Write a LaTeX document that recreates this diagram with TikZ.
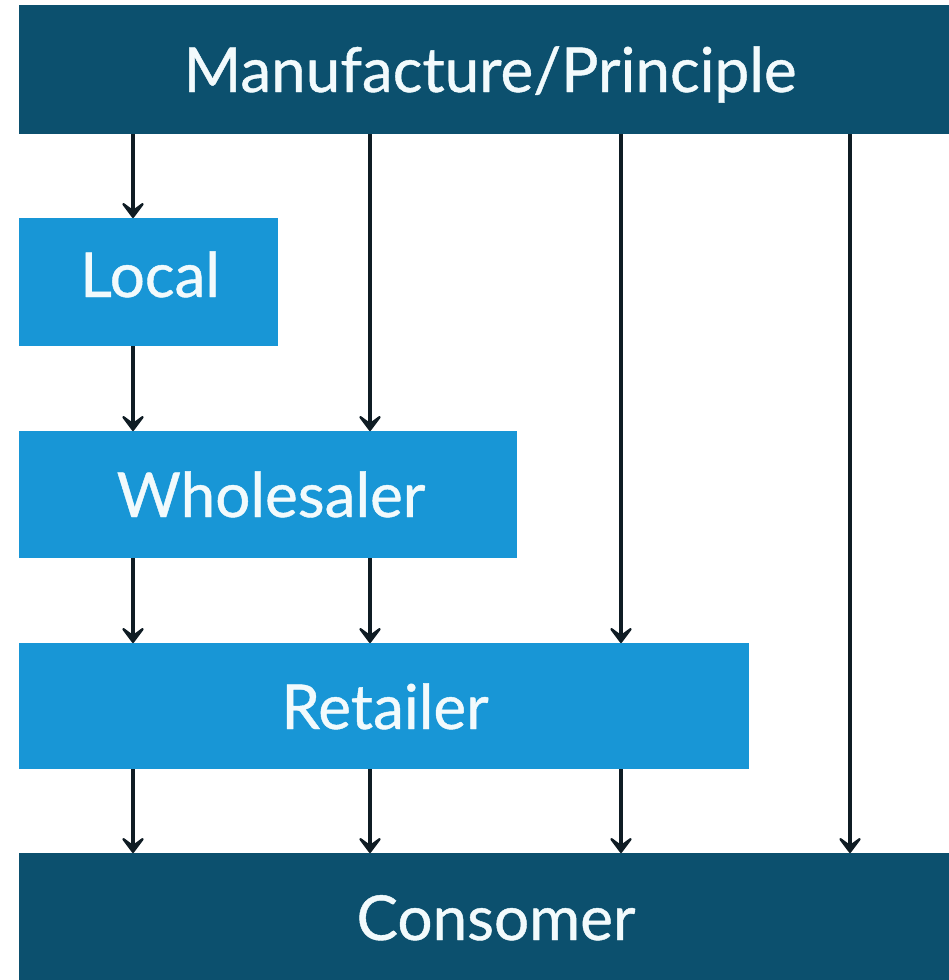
\documentclass[tikz,border=0pt]{standalone}
\usepackage{fontspec}
\setmainfont{Lato}
\newfontfamily\medfont{Lato}[FakeBold=0.7]
\usetikzlibrary{arrows.meta}
\definecolor{darkbar}{RGB}{12,80,110}
\definecolor{lightbox}{RGB}{24,150,214}
\definecolor{arrowc}{RGB}{15,28,36}
\definecolor{txt}{RGB}{242,250,252}
\tikzset{
  darkbox/.style={fill=darkbar, draw=none, inner sep=0pt, anchor=north west},
  bluebox/.style={fill=lightbox, draw=none, inner sep=0pt, anchor=north west},
  lbl/.style={text=txt, font=\medfont\fontsize{62}{70}\selectfont, inner sep=0pt, anchor=base},
  flow/.style={draw=arrowc, line width=4.5pt, -{Stealth[length=20pt,width=30pt,inset=11pt,round]}}
}
\begin{document}
\begin{tikzpicture}[x=1pt,y=-1pt]
\useasboundingbox (0,0) rectangle (949,980);
% boxes
\node[darkbox, minimum width=930pt, minimum height=129pt] (top) at (19,5) {};
\node[bluebox, minimum width=259pt, minimum height=128pt] (local) at (19,218) {};
\node[bluebox, minimum width=498pt, minimum height=127pt] (whole) at (19,431) {};
\node[bluebox, minimum width=730pt, minimum height=126pt] (retail) at (19,643) {};
\node[darkbox, minimum width=930pt, minimum height=127pt] (cons) at (19,853) {};
% labels
\node[lbl] (ttop) at (490,92) {Manufacture/Principle};
\node[lbl] (tlocal) at (150,297) {Local};
\node[lbl] (twhole) at (271,517) {Wholesaler};
\node[lbl] (tretail) at (385,729) {Retailer};
\node[lbl] (tcons) at (496,940) {Consomer};
% arrow columns
\coordinate (c1) at (133,0);
\coordinate (c2) at (370,0);
\coordinate (c3) at (621,0);
\coordinate (c4) at (850,0);
% arrows
\draw[flow] (top.south -| c1) -- (local.north -| c1);
\draw[flow] (local.south -| c1) -- (whole.north -| c1);
\draw[flow] (whole.south -| c1) -- (retail.north -| c1);
\draw[flow] (retail.south -| c1) -- (cons.north -| c1);
\draw[flow] (top.south -| c2) -- (whole.north -| c2);
\draw[flow] (whole.south -| c2) -- (retail.north -| c2);
\draw[flow] (retail.south -| c2) -- (cons.north -| c2);
\draw[flow] (top.south -| c3) -- (retail.north -| c3);
\draw[flow] (retail.south -| c3) -- (cons.north -| c3);
\draw[flow] (top.south -| c4) -- (cons.north -| c4);
\end{tikzpicture}
\end{document}
